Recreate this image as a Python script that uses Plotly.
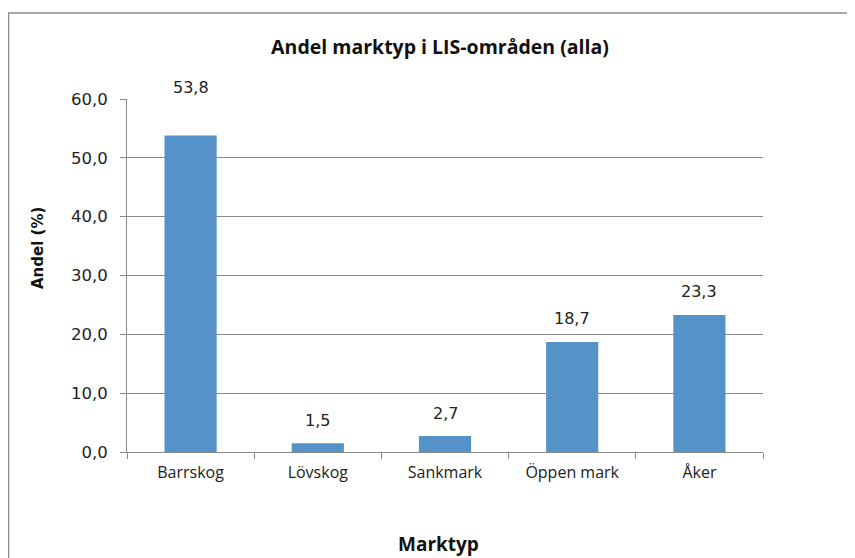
import plotly.graph_objects as go

categories = ["Barrskog", "Lövskog", "Sankmark", "Öppen mark", "Åker"]
values = [53.8, 1.5, 2.7, 18.7, 23.3]
y_ticks = [0, 10, 20, 30, 40, 50, 60]
label_shift = [48, 23, 23, 23, 23]

title_text = "Andel marktyp i LIS-områden (alla)"
x_title = "Marktyp"
y_title = "Andel (%)"

bar_color = "#5592C8"
grid_color = "#8a8a8a"

# figure pixel geometry (page is offset by the 8px body margin)
L, R, T, B = 119, 100, 91, 114
W, H = 855, 558
PW, PH = W - L - R, H - T - B


def px_to_paper_x(px):
    return (px - L) / PW


def px_to_paper_y(py):
    return (H - B - py) / PH


fig = go.Figure()
fig.add_trace(go.Bar(
    x=categories, y=values,
    marker=dict(color=bar_color, line=dict(width=0)),
    hoverinfo="x+y",
))

for c, v, s in zip(categories, values, label_shift):
    fig.add_annotation(x=c, y=v, text=f"{v:.1f}".replace(".", ","),
                       showarrow=False, yshift=s, yanchor="middle",
                       font=dict(family="DejaVu Sans", size=16, color="#222"))

fig.add_shape(type="rect", xref="paper", yref="paper",
              x0=px_to_paper_x(0.5), x1=1.4, y0=-0.6, y1=px_to_paper_y(5),
              line=dict(color="#8c8c8c", width=1.5), fillcolor="rgba(0,0,0,0)",
              layer="below")

fig.add_annotation(xref="paper", yref="paper",
                   x=px_to_paper_x(30), y=px_to_paper_y(240),
                   text=f"<b>{y_title}</b>", textangle=-90, showarrow=False,
                   xanchor="center", yanchor="middle",
                   font=dict(family="DejaVu Sans", size=15, color="#111"))
fig.add_annotation(xref="paper", yref="paper",
                   x=px_to_paper_x(430), y=px_to_paper_y(536),
                   text=f"<b>{x_title}</b>", showarrow=False,
                   xanchor="center", yanchor="middle",
                   font=dict(family="Open Sans", size=19, color="#111"))

fig.update_layout(
    width=W, height=H,
    margin=dict(l=L, r=R, t=T, b=B),
    paper_bgcolor="white", plot_bgcolor="white",
    separators=", ",
    bargap=0.59,
    showlegend=False,
    title=dict(text=f"<b>{title_text}</b>", x=px_to_paper_x(432), xref="paper", xanchor="center",
               y=1 - 39 / H, yanchor="middle",
               font=dict(family="Open Sans", size=19.5, color="#111")),
    font=dict(family="DejaVu Sans", color="#222"),
)

fig.update_yaxes(
    range=[0, 60], tickvals=y_ticks, tickformat=".1f",
    showgrid=True, gridcolor=grid_color, gridwidth=1,
    showline=True, linecolor=grid_color, linewidth=1,
    ticks="outside", ticklen=6, tickcolor=grid_color,
    ticklabelstandoff=9,
    tickfont=dict(family="DejaVu Sans", size=16.5, color="#222"),
    zeroline=False,
)
fig.update_xaxes(
    showline=True, linecolor=grid_color, linewidth=1,
    ticks="outside", ticklen=6, tickcolor=grid_color, tickson="boundaries",
    ticklabelstandoff=6,
    tickfont=dict(family="Open Sans", size=16, color="#222"),
)

fig.write_html("out.html")
